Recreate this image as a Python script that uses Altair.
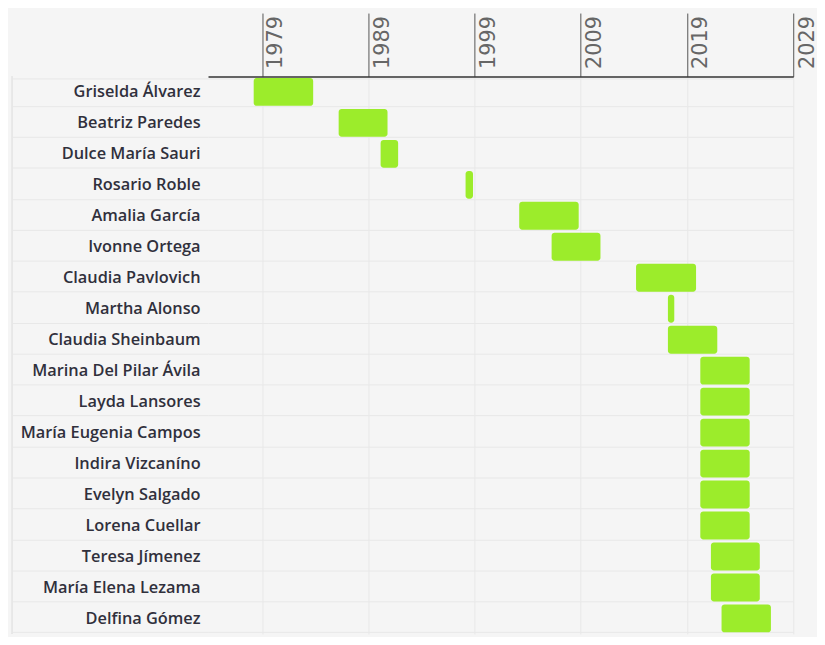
import altair as alt
import pandas as pd

names = [
    "Griselda Álvarez", "Beatriz Paredes", "Dulce María Sauri", "Rosario Roble",
    "Amalia García", "Ivonne Ortega", "Claudia Pavlovich", "Martha Alonso",
    "Claudia Sheinbaum", "Marina Del Pilar Ávila", "Layda Lansores",
    "María Eugenia Campos", "Indira Vizcaníno", "Evelyn Salgado",
    "Lorena Cuellar", "Teresa Jímenez", "María Elena Lezama", "Delfina Gómez",
]
starts = [1978.2, 1986.2, 1990.15, 1998.15, 2003.2, 2006.25, 2014.2, 2017.2,
          2017.2, 2020.25, 2020.25, 2020.25, 2020.25, 2020.25, 2020.25,
          2021.25, 2021.25, 2022.25]
ends = [1983.8, 1990.8, 1991.8, 1998.85, 2008.8, 2010.85, 2019.85, 2017.8,
        2021.85, 2024.9, 2024.9, 2024.9, 2024.9, 2024.9, 2024.9,
        2025.85, 2025.85, 2026.9]
tick_years = [1979, 1989, 1999, 2009, 2019, 2029]

df = pd.DataFrame({"name": names, "start": starts, "end": ends})

GRID = "#e8e8e8"
W, H = 591, 563

bars = alt.Chart(df).mark_bar(color="#9cec2b", cornerRadius=3).encode(
    x=alt.X(
        "start:Q",
        scale=alt.Scale(domain=[1973.9, 2029], nice=False, zero=False),
        axis=alt.Axis(
            orient="top", values=tick_years, format="d", title=None,
            labelAngle=270, labelAlign="left", labelBaseline="top",
            labelPadding=-56, labelOffset=3, labelFont="DejaVu Sans",
            labelFontSize=21, labelColor="#666666", labelOverlap=False,
            labelFlush=False, tickSize=64, tickColor="#555555", tickWidth=1,
            domainColor="#333333", domainWidth=1.5, grid=True,
            gridColor=GRID, gridWidth=1,
        ),
    ),
    x2="end:Q",
    y=alt.Y(
        "name:N", sort=names,
        axis=alt.Axis(
            title=None, domain=False, tickBand="extent", tickSize=198,
            tickColor=GRID, grid=True, gridColor=GRID, labelPadding=-190,
            labelFont="Open Sans", labelFontWeight=600, labelFontSize=16.5,
            labelColor="#30303c", labelLimit=300,
        ),
    ),
)

border = alt.Chart(df).mark_rule(color=GRID).encode(
    x=alt.value(-198), y=alt.value(0), y2=alt.value(H)
)

chart = (border + bars).properties(
    width=W, height=H, background="#f5f5f5",
    autosize=alt.AutoSizeParams(type="none"),
    padding={"left": 202, "top": 66, "right": 24, "bottom": 0},
).configure_view(strokeWidth=0)

chart.save("out.html", embed_options={"renderer": "svg", "actions": False})
